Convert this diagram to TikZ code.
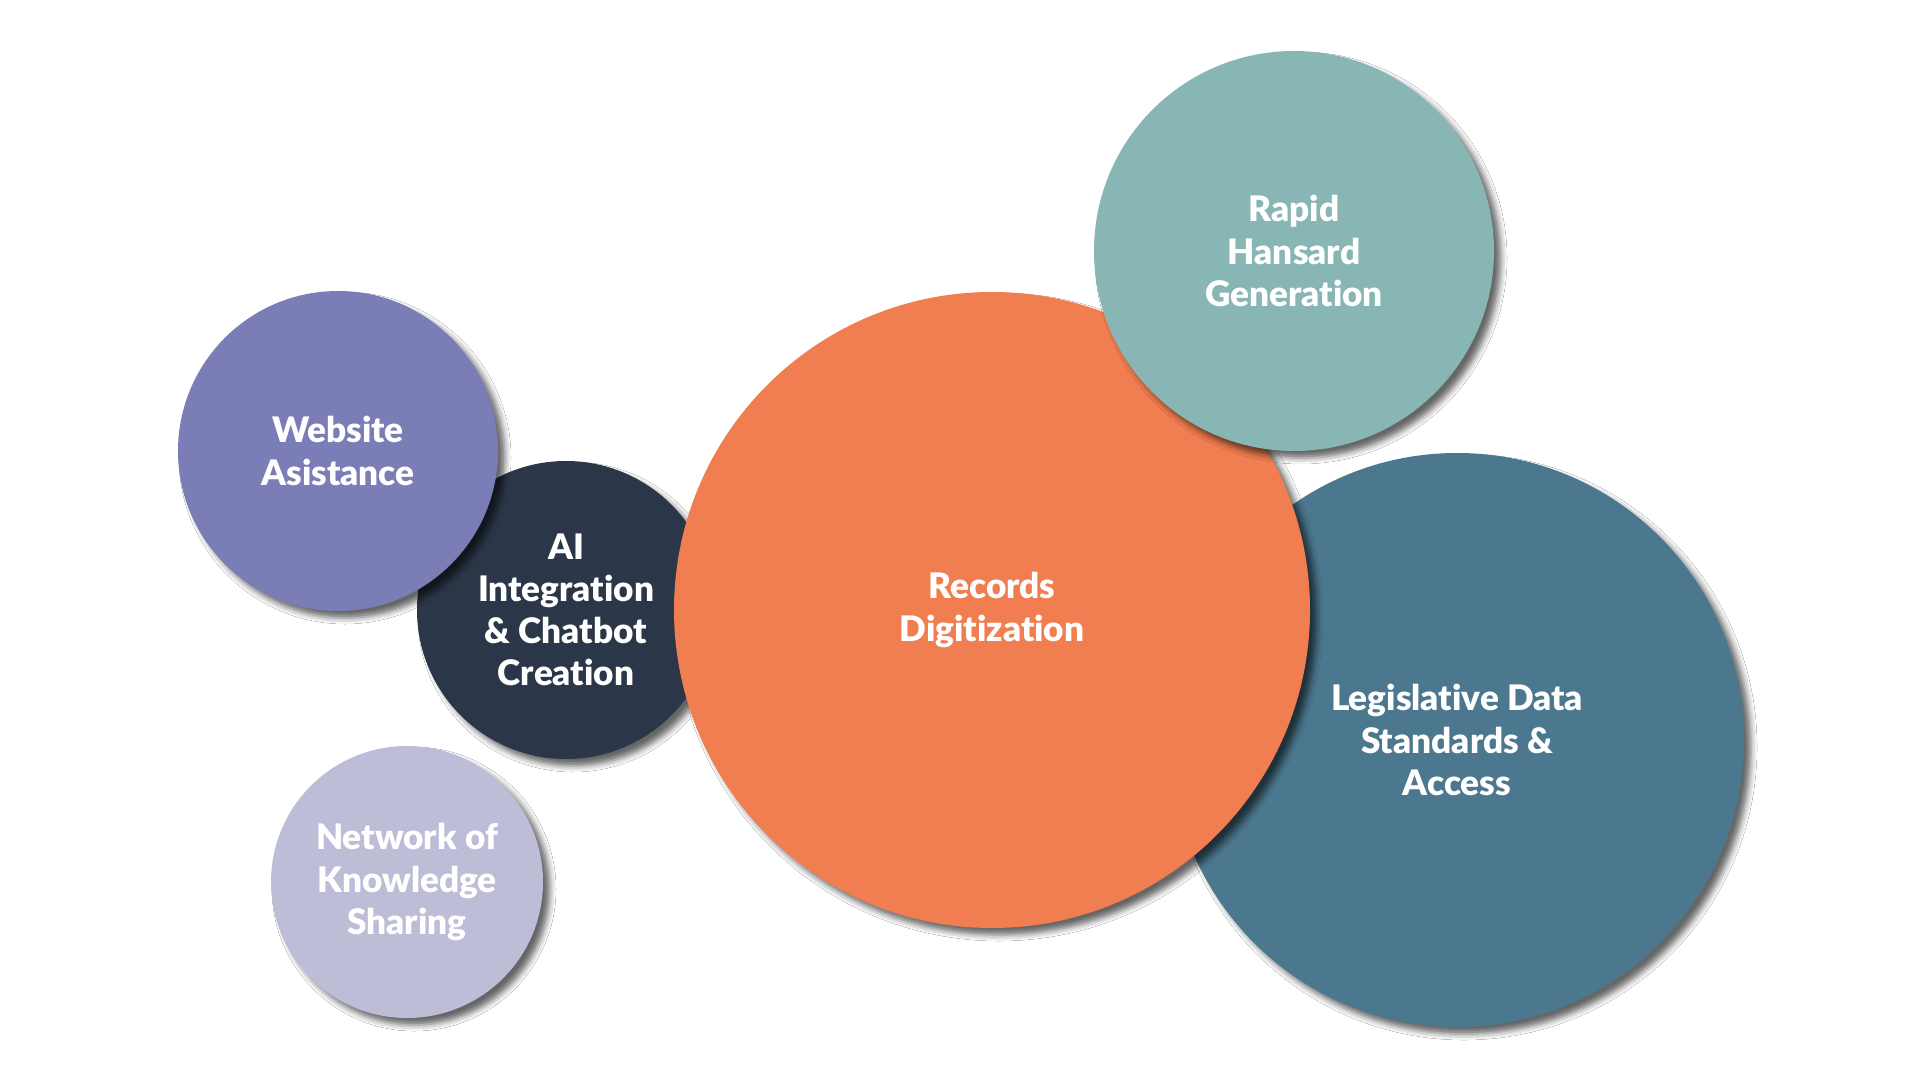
\documentclass[tikz,border=0pt]{standalone}
\usepackage{fontspec}
\setmainfont{Lato}[Ligatures={NoCommon},BoldFont={Lato Black}]
\usetikzlibrary{shadows.blur}
\definecolor{sitepurple}{HTML}{7B7DB6}
\definecolor{ainavy}{HTML}{2B3748}
\definecolor{netlavender}{HTML}{BDBDD7}
\definecolor{recorange}{HTML}{F17E50}
\definecolor{hansteal}{HTML}{88B6B5}
\definecolor{legisblue}{HTML}{4C788F}
\tikzset{bubble/.style={circle,inner sep=0pt,align=center,text=white,
  font=\bfseries\fontsize{10}{12}\selectfont,
  blur shadow={shadow xshift=0.07cm,shadow yshift=-0.07cm,shadow blur radius=0.06cm,shadow opacity=60}}}
\begin{document}
\begin{tikzpicture}
\fill[white] (0,0) rectangle (19.2,-10.8);
\useasboundingbox (0,0) rectangle (19.2,-10.8);
\begin{scope}[every node/.style=bubble]
\node[fill=ainavy,minimum size=2.98cm] (B) at (5.66,-6.10) {AI\\Integration\\\& Chatbot\\Creation};
\node[fill=sitepurple,minimum size=3.2cm] (A) at (3.38,-4.51) {Website\\Asistance};
\node[fill=legisblue,minimum size=5.74cm] (F) at (14.57,-7.40) {Legislative Data\\Standards \&\\Access};
\node[fill=recorange,minimum size=6.36cm] (D) at (9.92,-6.10) {Records\\Digitization};
\node[fill=hansteal,minimum size=4.0cm] (E) at (12.94,-2.51) {Rapid\\Hansard\\Generation};
\node[fill=netlavender,minimum size=2.72cm] (C) at (4.07,-8.82) {Network of\\Knowledge\\Sharing};
\end{scope}
\end{tikzpicture}
\end{document}
